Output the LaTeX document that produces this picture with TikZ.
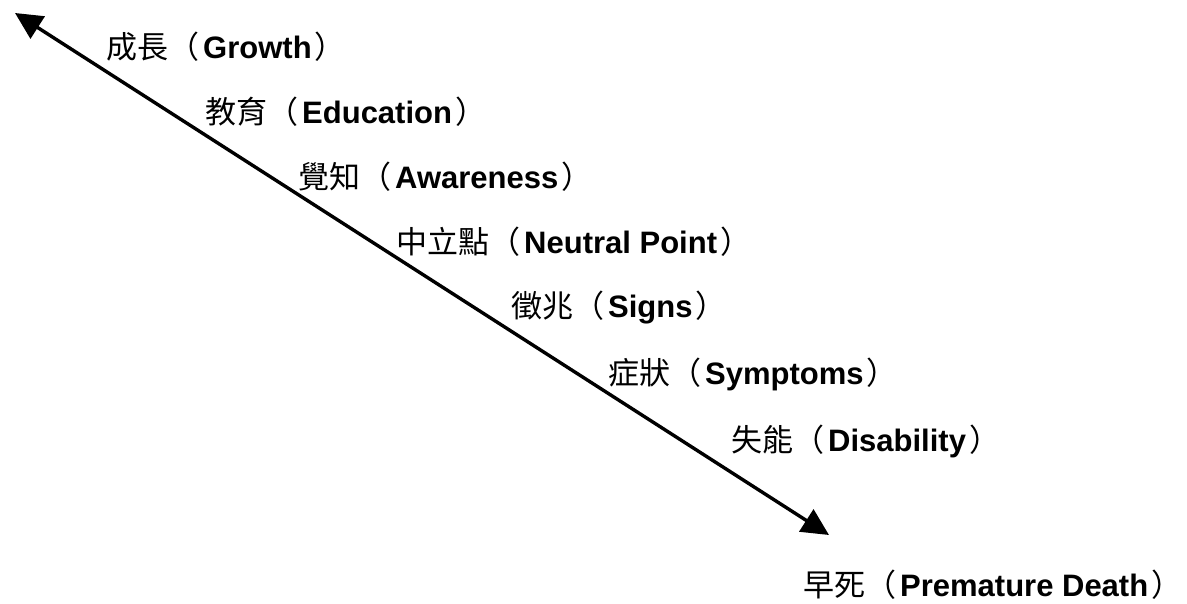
\documentclass[tikz,border=0pt]{standalone}
\usepackage{fontspec}
\setmainfont{Liberation Sans}
\newfontfamily\cjk{Noto Sans CJK TC}
\usetikzlibrary{arrows.meta}
\tikzset{
  lbl/.style={anchor=base west, inner sep=0pt, font=\fontsize{31}{36}\selectfont},
  axisline/.style={line width=3.4pt, {Triangle[length=27pt,width=26pt]}-{Triangle[length=27pt,width=26pt]}}
}
\newcommand{\lab}[2]{{\cjk #1（}\hspace{4pt}\textbf{#2}\hspace{3pt}{\cjk ）}}
\begin{document}
\begin{tikzpicture}[x=1pt,y=-1pt]
\useasboundingbox (0,0) rectangle (1187,604);
\coordinate (top) at (15,13);
\coordinate (bot) at (829,535);
\draw[axisline] (top) -- (bot);
\node[lbl] (growth) at (106,59) {\lab{成長}{Growth}};
\node[lbl] (edu) at (205,124) {\lab{教育}{Education}};
\node[lbl] (aware) at (298,189) {\lab{覺知}{Awareness}};
\node[lbl] (neutral) at (396,254) {\lab{中立點}{Neutral Point}};
\node[lbl] (signs) at (511,318) {\lab{徵兆}{Signs}};
\node[lbl] (symp) at (608,384) {\lab{症狀}{Symptoms}};
\node[lbl] (dis) at (731,451) {\lab{失能}{Disability}};
\node[lbl] (death) at (803,596) {\lab{早死}{Premature Death}};
\end{tikzpicture}
\end{document}
